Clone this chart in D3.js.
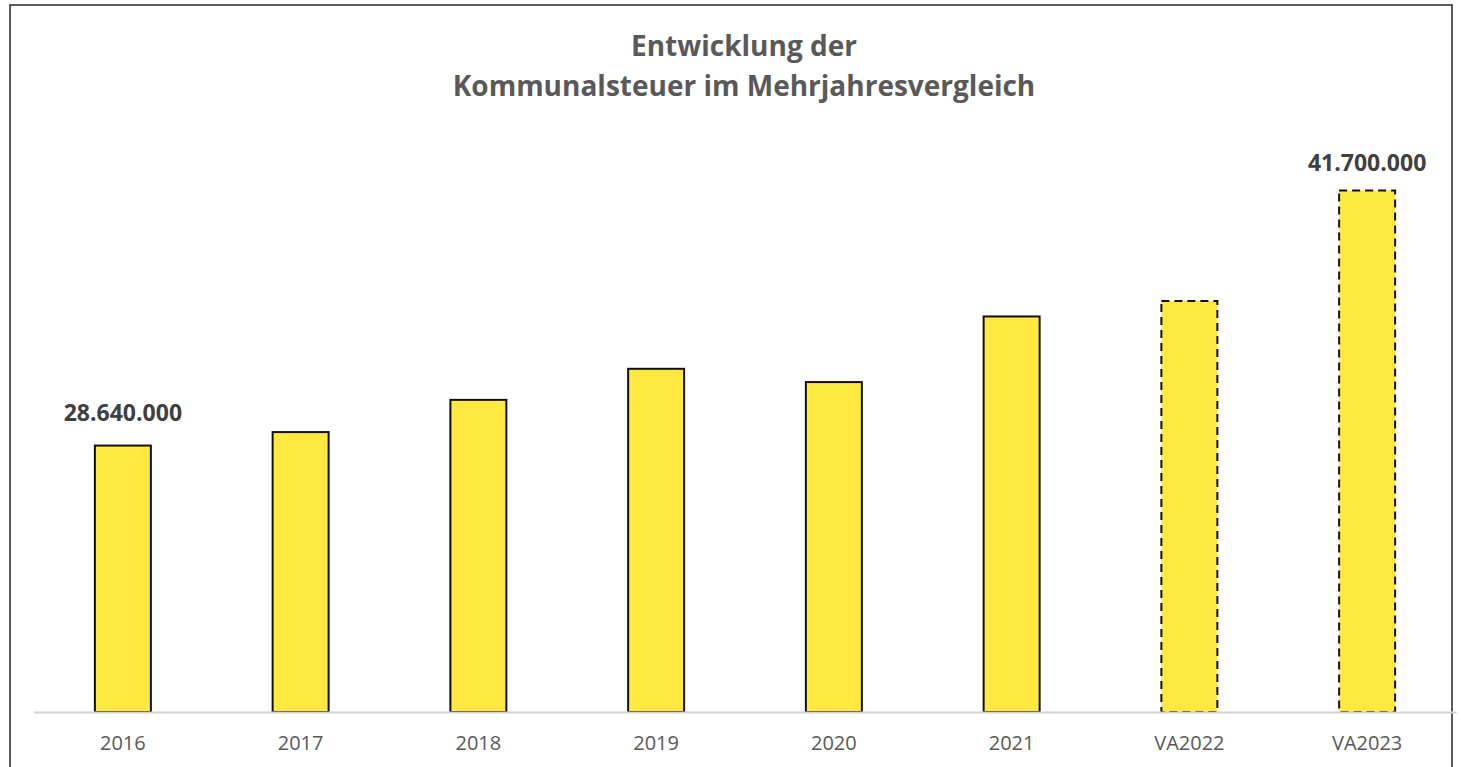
<!DOCTYPE html>
<html>
<head>
<meta charset="utf-8">
<script src="https://cdn.jsdelivr.net/npm/d3@7"></script>
<style>
	body { margin: 0; background: #fff; }
	svg { display: block; font-family: "Open Sans", "Noto Sans", sans-serif; }
</style>
</head>
<body>
<div id="chart"></div>
<script>
// Daten
var categories = ["2016", "2017", "2018", "2019", "2020", "2021", "VA2022", "VA2023"];
var values = [28640000, 29330000, 30980000, 32570000, 31890000, 35250000, 36040000, 41700000];
var dashed = [false, false, false, false, false, false, true, true];
var labelled = [true, false, false, false, false, false, false, true];
var labelGap = [25, 0, 0, 0, 0, 0, 0, 19];
var titleLines = ["Entwicklung der", "Kommunalsteuer im Mehrjahresvergleich"];

var W = 1461, H = 767;
var svg = d3.select("#chart").append("svg")
			.attr("width", W)
			.attr("height", H);

// Rahmen
svg.append("rect")
	.attr("x", 10).attr("y", 5)
	.attr("width", 1442).attr("height", 800)
	.attr("fill", "#fff")
	.attr("stroke", "#262626")
	.attr("stroke-width", 1.5);

// Titel
svg.append("text")
	.attr("x", 744).attr("y", 56)
	.attr("text-anchor", "middle")
	.attr("fill", "#595959")
	.attr("font-size", 28)
	.attr("font-weight", "bold")
	.selectAll("tspan")
	.data(titleLines)
	.enter().append("tspan")
	.attr("x", 744)
	.attr("dy", function(d, i) { return i ? 40 : 0; })
	.text(function(d) { return d; });

var x = d3.scaleBand()
		  .domain(categories)
		  .range([34, 1456])
		  .paddingInner(0.685)
		  .paddingOuter(0.3425);

var y = d3.scaleLinear()
		  .domain([15000000, 45000000])
		  .range([712, 126]);

// Balken
svg.append("g").selectAll("rect")
	.data(values)
	.enter().append("rect")
	.attr("x", function(d, i) { return x(categories[i]); })
	.attr("y", function(d) { return y(d); })
	.attr("width", x.bandwidth())
	.attr("height", function(d) { return y.range()[0] - y(d); })
	.attr("fill", "#FFE83F")
	.attr("stroke", "#111")
	.attr("stroke-width", 2)
	.attr("stroke-dasharray", function(d, i) { return dashed[i] ? "8,5" : null; });

// Achse
var axis = svg.append("g")
			  .attr("transform", "translate(0,712)")
			  .call(d3.axisBottom(x).tickSize(0).tickPadding(24));
axis.select(".domain").attr("stroke", "#d0d0d0").attr("stroke-width", 2);
axis.selectAll("text")
	.attr("font-size", 20)
	.attr("fill", "#595959")
	.attr("font-family", "\"Open Sans\", sans-serif");

// Datenbeschriftungen
var fmt = function(v) { return d3.format(",")(v).replace(/,/g, "."); };
svg.append("g").selectAll("text")
	.data(values.map(function(v, i) { return {v: v, i: i}; }).filter(function(d) { return labelled[d.i]; }))
	.enter().append("text")
	.attr("x", function(d) { return x(categories[d.i]) + x.bandwidth() / 2; })
	.attr("y", function(d) { return y(d.v) - labelGap[d.i]; })
	.attr("text-anchor", "middle")
	.attr("font-size", 23)
	.attr("font-weight", "bold")
	.attr("fill", "#404040")
	.text(function(d) { return fmt(d.v); });
</script>
</body>
</html>
